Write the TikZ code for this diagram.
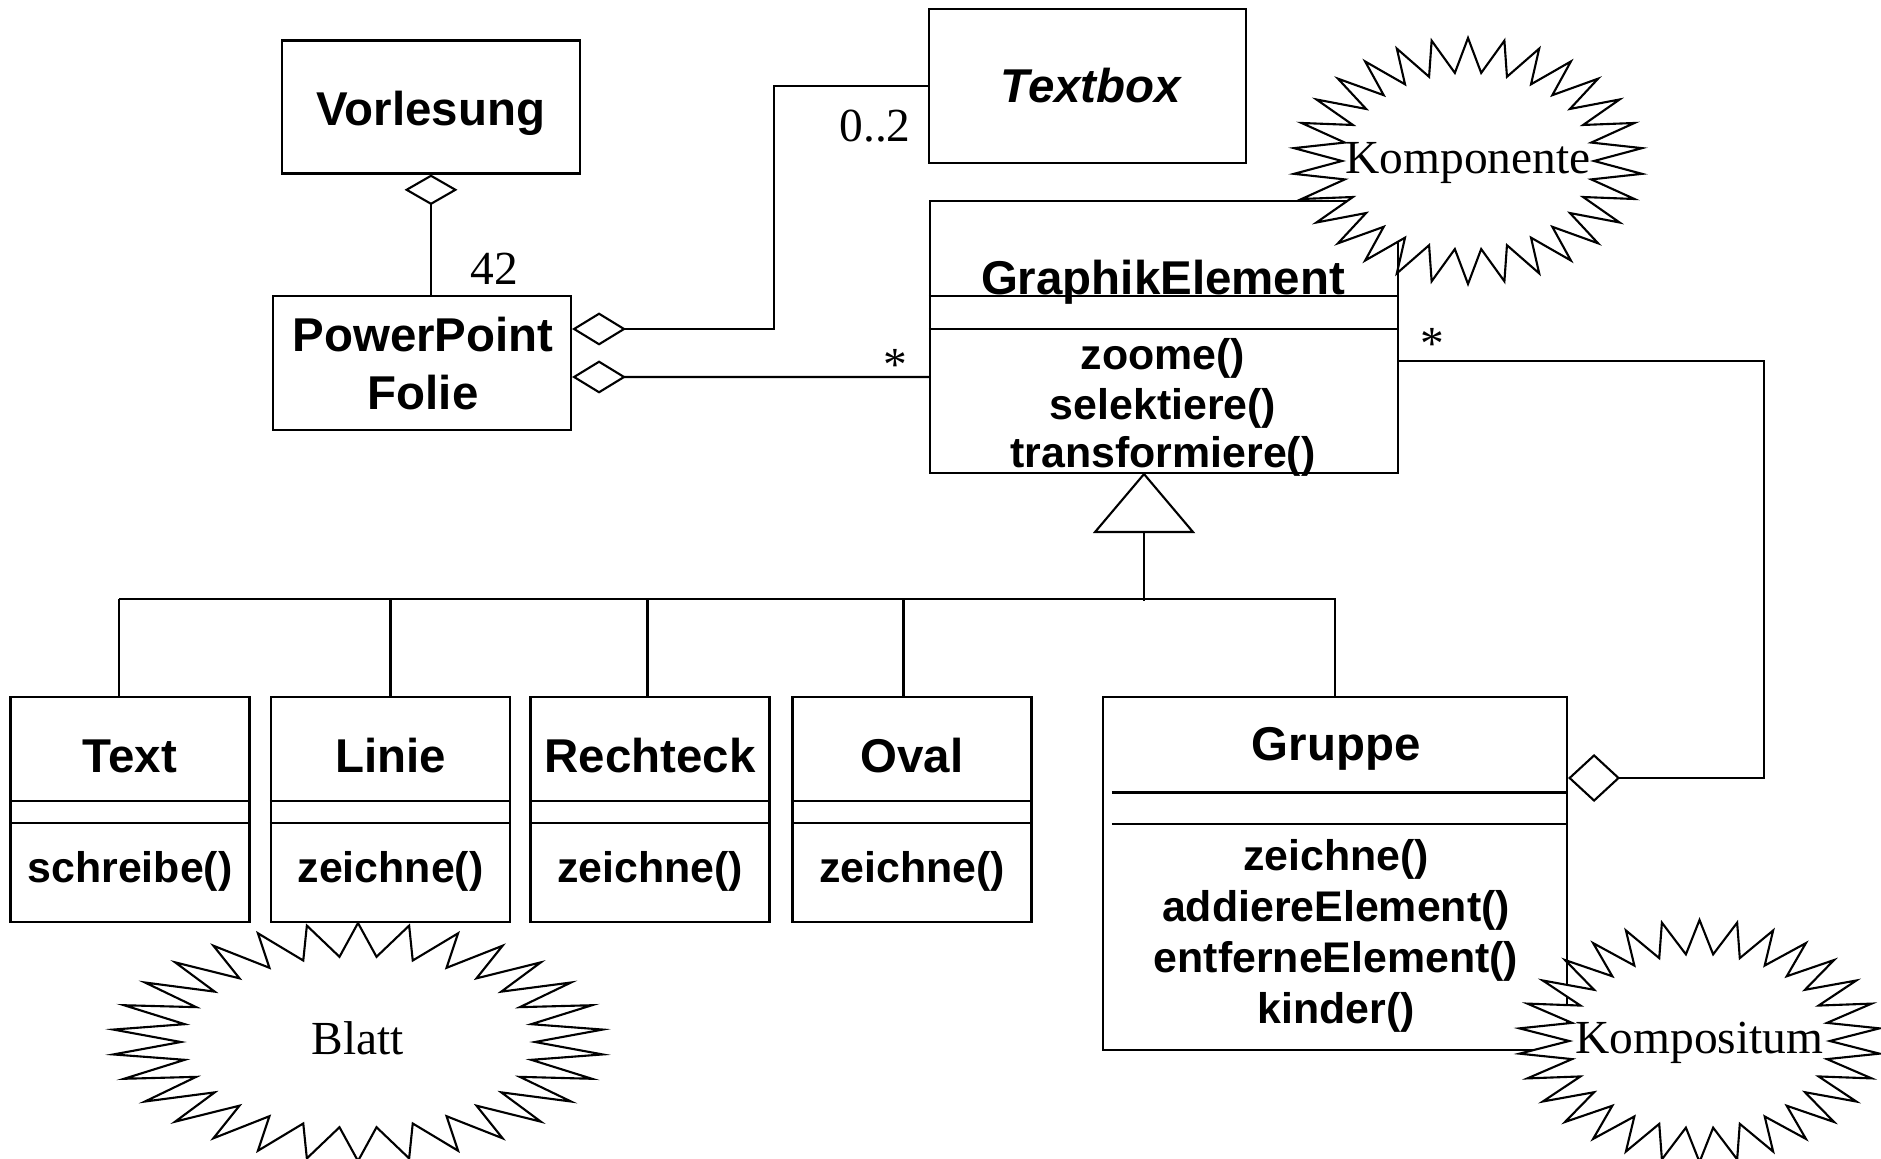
\documentclass[tikz,border=0pt]{standalone}
\usepackage{fontspec}
\setmainfont{Liberation Serif}
\setsansfont{Liberation Sans}
\usetikzlibrary{arrows.meta,positioning}

\tikzset{
  klasse/.style={draw, rectangle, inner sep=0pt},
  titel/.style={anchor=base, inner sep=0pt, font=\sffamily\bfseries\fontsize{13.5}{15}\selectfont},
  methode/.style={anchor=base, inner sep=0pt, font=\sffamily\bfseries\fontsize{12.2}{14}\selectfont},
  notiz/.style={anchor=base, inner sep=0pt, font=\fontsize{13.5}{15}\selectfont}
}

% Zackenwolke: Name, x, y, rx, ry, Text
\newcommand{\zacken}[6]{%
  \draw[fill=white] plot[samples at={0,...,59}, variable=\k]
    ({#2+((mod(\k,2)==0)?1:0.72)*#4*cos(90+6*\k)},{#3+((mod(\k,2)==0)?1:0.72)*#5*sin(90+6*\k)}) -- cycle;
  \node[notiz, yshift=-1.25mm] (#1) at (#2,#3) {#6};
}

\begin{document}
\begin{tikzpicture}[x=1mm, y=-1mm, line width=0.6pt]
  \useasboundingbox (0,0) rectangle (188.1,115.9);

  % Vorlesung, Folie, Textbox
  \node[klasse, minimum width=29.8mm, minimum height=13.3mm] (vorlesung) at (43.1,10.7) {};
  \node[titel] (vorlesung-t) at (43.1,12.6) {Vorlesung};
  \node[klasse, minimum width=29.8mm, minimum height=13.4mm] (folie) at (42.2,36.3) {};
  \node[titel] (folie-t1) at (42.3,35.2) {PowerPoint};
  \node[titel] (folie-t2) at (42.3,41.0) {Folie};
  \node[klasse, minimum width=31.7mm, minimum height=15.4mm] (textbox) at (108.75,8.6) {};
  \node[titel] (textbox-t) at (109.1,10.3) {\itshape Textbox};

  % GraphikElement
  \node[klasse, minimum width=46.8mm, minimum height=27.2mm] (graphik) at (116.4,33.7) {};
  \draw ([yshift=-9.6mm]graphik.north west) -- ([yshift=-9.6mm]graphik.north east);
  \draw ([yshift=-12.9mm]graphik.north west) -- ([yshift=-12.9mm]graphik.north east);
  \node[titel] (graphik-t) at (116.3,29.5) {GraphikElement};
  \node[methode] (graphik-m1) at (116.3,37.0) {zoome()};
  \node[methode] (graphik-m2) at (116.3,42.0) {selektiere()};
  \node[methode] (graphik-m3) at (116.3,46.8) {transformiere()};

  % Blaetter
  \foreach \name/\x/\d/\titel/\meth in {text/13.0/-1.1/Text/schreibe(),
      linie/39.05/0/Linie/zeichne(), rechteck/65.0/-0.25/Rechteck/zeichne(),
      oval/91.2/-0.85/Oval/zeichne()} {
    \node[klasse, minimum width=23.9mm, minimum height=22.5mm] (\name) at (\x,80.95) {};
    \draw ([yshift=-10.5mm]\name.north west) -- ([yshift=-10.5mm]\name.north east);
    \draw ([yshift=-12.7mm]\name.north west) -- ([yshift=-12.7mm]\name.north east);
    \node[titel] (\name-t) at (\x,77.2) {\titel};
    \node[methode] (\name-m) at (\x,88.2) {\meth};
    \draw ([xshift=\d mm]\name.north) -- ++(0,-9.7);
  }

  % Gruppe
  \node[klasse, minimum width=46.4mm, minimum height=35.3mm] (gruppe) at (133.5,87.35) {};
  \draw ([xshift=1mm,yshift=-9.65mm]gruppe.north west) -- ([yshift=-9.65mm]gruppe.north east);
  \draw ([xshift=1mm,yshift=-12.8mm]gruppe.north west) -- ([yshift=-12.8mm]gruppe.north east);
  \node[titel] (gruppe-t) at (133.6,76.0) {Gruppe};
  \node[methode] (gruppe-m1) at (133.6,87.0) {zeichne()};
  \node[methode] (gruppe-m2) at (133.6,92.1) {addiereElement()};
  \node[methode] (gruppe-m3) at (133.6,97.25) {entferneElement()};
  \node[methode] (gruppe-m4) at (133.6,102.3) {kinder()};

  % Vererbung
  \coordinate (spitze) at ([xshift=-2mm]graphik.south);
  \coordinate (fuss) at ([yshift=-5.8mm]spitze);
  \coordinate (bus) at ([yshift=-12.7mm]spitze);
  \draw (spitze) -- ++(-4.9,5.8) -- ++(9.8,0) -- cycle;
  \draw (fuss) -- (bus);
  \draw ([xshift=-1.1mm,yshift=9.7mm]text.north) -| (gruppe.north);

  % Aggregationen
  \draw[-{Diamond[open,length=3.05mm,width=5.3mm]}] (vorlesung.south |- folie.north) -- (vorlesung.south);
  \draw[{Diamond[open,length=5.4mm,width=3.3mm]}-] ([yshift=3.4mm]folie.east)
    -| ([xshift=-15.4mm]textbox.west) -- (textbox.west);
  \draw[{Diamond[open,length=5.4mm,width=3.3mm]}-] ([yshift=-1.4mm]folie.east) -- ([yshift=-4mm]graphik.west);
  \draw[-{Diamond[open,length=5.2mm,width=4.8mm]}] ([yshift=-2.4mm]graphik.east)
    -| ([xshift=19.6mm,yshift=9.55mm]gruppe.east) -- ([yshift=9.55mm]gruppe.east);

  % Multiplizitaeten
  \node[notiz] (m42) at (49.4,28.5) {42};
  \node[notiz] (m02) at (87.5,14.2) {0..2};
  \node[notiz] (stern-l) at (89.5,38.1) {*};
  \node[notiz] (stern-r) at (143.2,36.0) {*};

  % Rollen
  \zacken{komponente}{146.8}{16.1}{17.5}{12.3}{Komponente}
  \zacken{blatt}{35.8}{104.2}{24.6}{11.9}{Blatt}
  \zacken{kompositum}{169.95}{104.1}{18.1}{12.1}{Kompositum}
\end{tikzpicture}
\end{document}
